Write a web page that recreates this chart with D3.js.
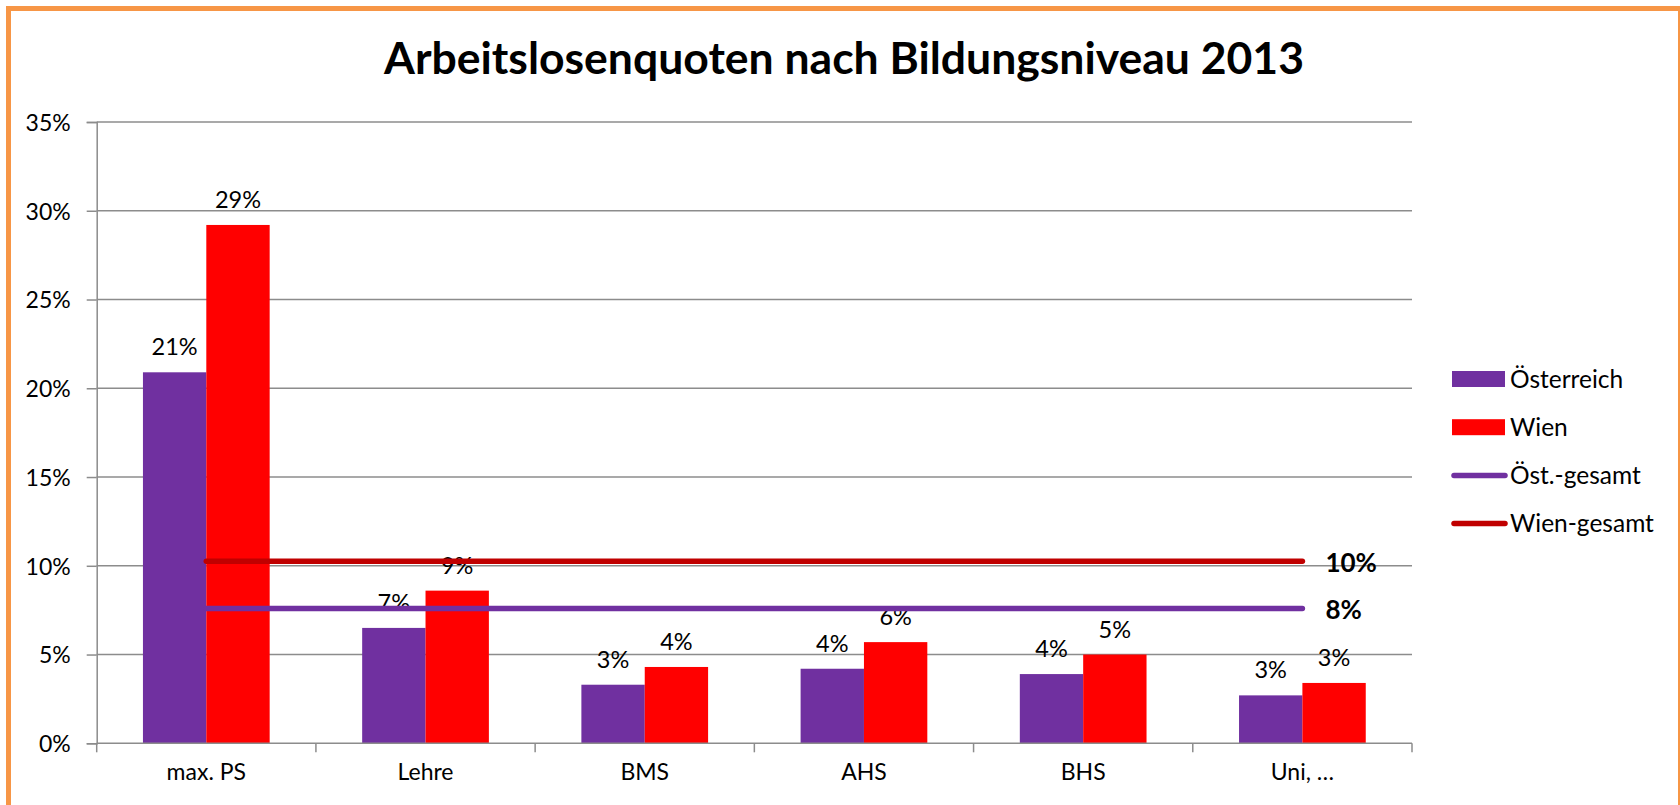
<!DOCTYPE html>
<html>
<head>
<meta charset="utf-8">
<style type="text/css">
body { margin: 0; background: #fff; }
svg text { font-family: Lato, "Open Sans", sans-serif; fill: #000; }
.grid line { stroke: #8c8c8c; stroke-width: 1.5; }
.axis path, .axis line { stroke: #8c8c8c; stroke-width: 1.5; }
.axis text { font-size: 23px; }
.bar-label { font-size: 23.5px; }
.line { fill: none; stroke-width: 5.5; stroke-linecap: round; }
.legend text { font-size: 24.5px; }
</style>
<script type="text/javascript" src="https://cdn.jsdelivr.net/npm/d3@7"></script>
</head>
<body>
<script>
// data
var categories = ["max. PS", "Lehre", "BMS", "AHS", "BHS", "Uni, \u2026"];
var oesterreich = [0.209, 0.065, 0.033, 0.042, 0.039, 0.027];
var wien = [0.292, 0.086, 0.043, 0.057, 0.050, 0.034];
var oestGesamt = 0.076;
var wienGesamt = 0.1025;
var yTicks = [0, 0.05, 0.10, 0.15, 0.20, 0.25, 0.30, 0.35];
var seriesNames = ["Österreich", "Wien", "Öst.-gesamt", "Wien-gesamt"];
var colors = {"Österreich": "#7030a0", "Wien": "#ff0000", "Öst.-gesamt": "#7030a0", "Wien-gesamt": "#c00000"};

var W = 1680, H = 805;
var plot = {left: 96.7, right: 1412, top: 122, bottom: 743.3};

var svg = d3.select("body").append("svg")
    .attr("width", W)
    .attr("height", H);

// orange frame (bottom edge falls outside the picture)
svg.append("rect")
    .attr("x", 8.5).attr("y", 8.5)
    .attr("width", 1672).attr("height", 830)
    .attr("fill", "#fff")
    .attr("stroke", "#f79646")
    .attr("stroke-width", 5);

// title
svg.append("text")
    .attr("x", 844)
    .attr("y", 74)
    .attr("text-anchor", "middle")
    .style("font-size", "44.5px")
    .style("font-weight", "bold")
    .text("Arbeitslosenquoten nach Bildungsniveau 2013");

// scales
var x0 = d3.scaleBand()
    .domain(categories)
    .range([plot.left, plot.right])
    .paddingInner(0).paddingOuter(0);

var x1 = d3.scaleBand()
    .domain(["Österreich", "Wien"])
    .range([0, x0.bandwidth()])
    .paddingOuter(0.73)
    .paddingInner(0);

var y = d3.scaleLinear()
    .domain([0, 0.35])
    .range([plot.bottom, plot.top]);

// gridlines
svg.append("g")
    .attr("class", "grid")
    .selectAll("line")
    .data(yTicks.slice(1))
    .enter().append("line")
    .attr("x1", plot.left).attr("x2", plot.right)
    .attr("y1", function(d) { return y(d); })
    .attr("y2", function(d) { return y(d); });

// y axis
var yAxis = svg.append("g")
    .attr("class", "axis")
    .attr("transform", "translate(" + plot.left + ",0)")
    .call(d3.axisLeft(y).tickValues(yTicks).tickSize(10).tickPadding(16).tickFormat(d3.format(".0%")));
yAxis.selectAll("text").attr("dy", "0.36em");

// bars
var groups = svg.append("g")
    .selectAll("g")
    .data(categories)
    .enter().append("g")
    .attr("transform", function(d) { return "translate(" + x0(d) + ",0)"; });

var barData = function(d, i) {
  return [{key: "Österreich", v: oesterreich[i]}, {key: "Wien", v: wien[i]}];
};

groups.selectAll("rect")
    .data(barData)
    .enter().append("rect")
    .attr("x", function(d) { return x1(d.key); })
    .attr("y", function(d) { return y(d.v); })
    .attr("width", x1.bandwidth())
    .attr("height", function(d) { return y(0) - y(d.v); })
    .attr("fill", function(d) { return colors[d.key]; });

// x axis (drawn over bar bottoms)
var xAxis = svg.append("g")
    .attr("class", "axis")
    .attr("transform", "translate(0," + plot.bottom + ")")
    .call(d3.axisBottom(x0).tickSize(0).tickPadding(19));
xAxis.select(".domain").attr("d", "M" + plot.left + ",0H" + plot.right);
xAxis.selectAll(".tick text").attr("dy", "0.75em");
xAxis.selectAll(".cat-tick")
    .data(d3.range(categories.length + 1))
    .enter().append("line")
    .attr("class", "cat-tick")
    .attr("x1", function(i) { return plot.left + i * x0.bandwidth(); })
    .attr("x2", function(i) { return plot.left + i * x0.bandwidth(); })
    .attr("y1", 0).attr("y2", 9);

// total lines
var xFirst = x0(categories[0]) + x0.bandwidth() / 2;
var xLast = x0(categories[categories.length - 1]) + x0.bandwidth() / 2;
var totals = [{key: "Wien-gesamt", v: wienGesamt}, {key: "Öst.-gesamt", v: oestGesamt}];

svg.selectAll(".line")
    .data(totals)
    .enter().append("line")
    .attr("class", "line")
    .attr("x1", xFirst).attr("x2", xLast)
    .attr("y1", function(d) { return y(d.v); })
    .attr("y2", function(d) { return y(d.v); })
    .attr("stroke", function(d) { return colors[d.key]; });

svg.selectAll(".total-label")
    .data(totals)
    .enter().append("text")
    .attr("class", "total-label")
    .attr("x", xLast + 23)
    .attr("y", function(d) { return y(d.v) + 11; })
    .style("font-size", "26px")
    .style("font-weight", "bold")
    .text(function(d) { return d3.format(".0%")(d.v); });

// bar value labels
groups.selectAll(".bar-label")
    .data(barData)
    .enter().append("text")
    .attr("class", "bar-label")
    .attr("x", function(d) { return x1(d.key) + x1.bandwidth() / 2; })
    .attr("y", function(d) { return y(d.v) - 17; })
    .attr("text-anchor", "middle")
    .text(function(d) { return d3.format(".0%")(d.v); });

// legend
var legend = svg.append("g")
    .attr("class", "legend")
    .attr("transform", "translate(1452,379)");

var item = legend.selectAll("g")
    .data(seriesNames)
    .enter().append("g")
    .attr("transform", function(d, i) { return "translate(0," + (i * 48.2) + ")"; });

item.filter(function(d, i) { return i < 2; })
    .append("rect")
    .attr("x", 0).attr("y", -8)
    .attr("width", 53).attr("height", 16)
    .attr("fill", function(d) { return colors[d]; });

item.filter(function(d, i) { return i >= 2; })
    .append("line")
    .attr("x1", 2).attr("x2", 53)
    .attr("y1", 0).attr("y2", 0)
    .attr("stroke", function(d) { return colors[d]; })
    .attr("stroke-width", 5.5)
    .attr("stroke-linecap", "round");

item.append("text")
    .attr("x", 58)
    .attr("dy", "0.36em")
    .text(function(d) { return d; });
</script>
</body>
</html>
